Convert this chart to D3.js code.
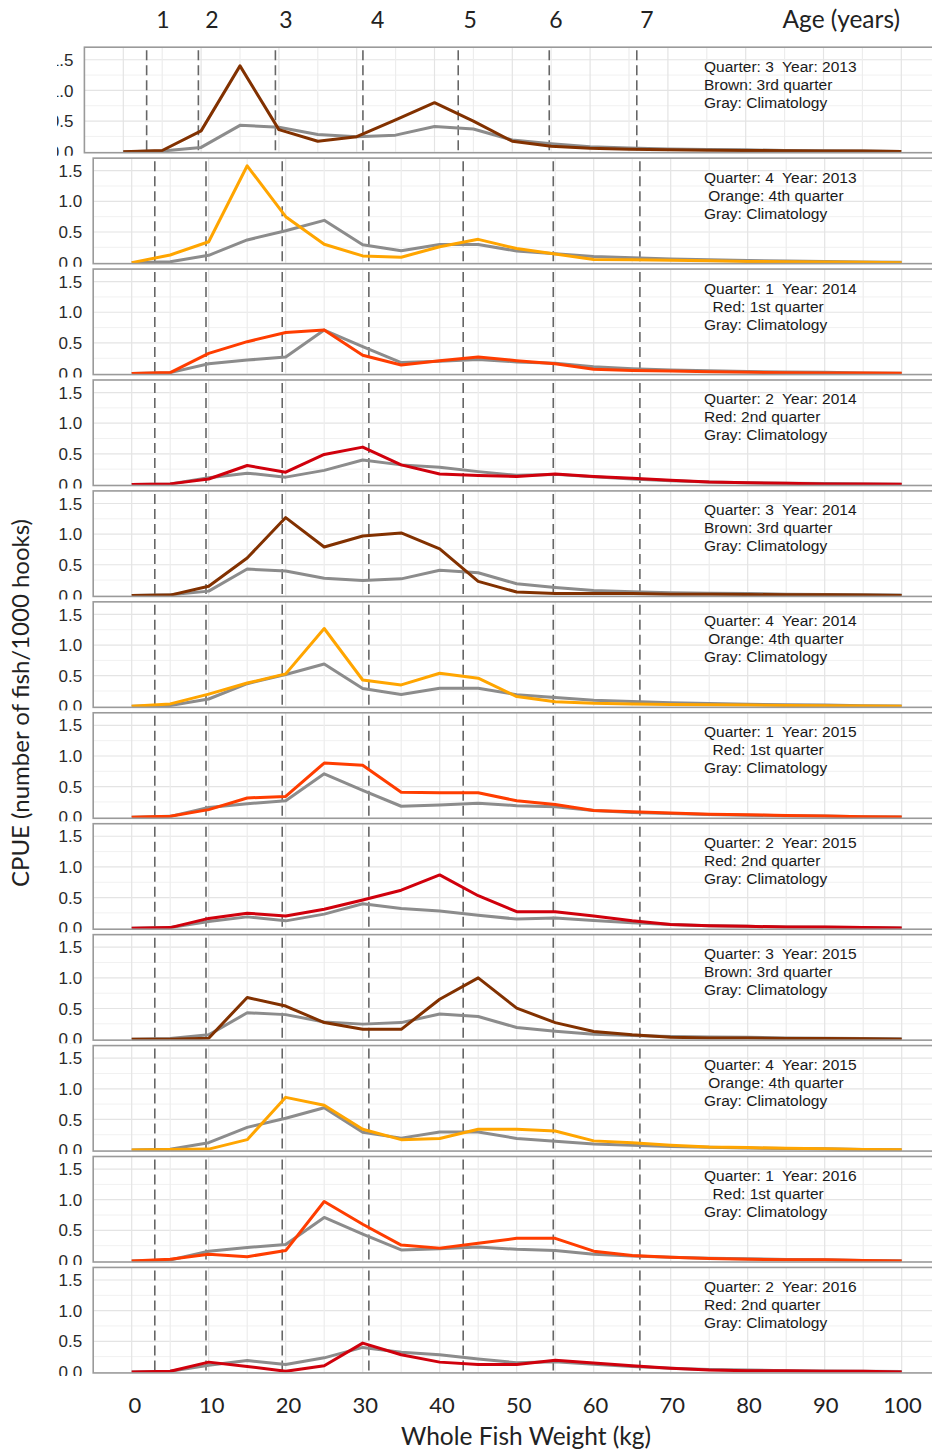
<!DOCTYPE html>
<html><head><meta charset="utf-8">
<script src="https://cdn.jsdelivr.net/npm/d3@7"></script>
<style>
html,body{margin:0;padding:0;background:#fff;}
svg{display:block;}
</style></head>
<body>
<script>
// ---------- DATA ----------
const weights = [0,5,10,15,20,25,30,35,40,45,50,55,60,65,70,75,80,85,90,95,100];
const xTicks = [0,10,20,30,40,50,60,70,80,90,100];
const yTicks = [0.0,0.5,1.0,1.5];
const ageBoundaries = [3.0,9.65,19.55,30.8,43.05,54.75,66.0];
const ageLabels = ["1","2","3","4","5","6","7"];
const ageLabelKg = [5.1,11.4,20.9,32.7,44.6,55.6,67.3];

const climQ1 = [0,0.015,0.16,0.22,0.27,0.71,0.44,0.18,0.20,0.23,0.19,0.17,0.11,0.08,0.06,0.045,0.035,0.025,0.02,0.01,0.005];
const climQ2 = [0,0.01,0.11,0.185,0.12,0.23,0.40,0.32,0.28,0.21,0.15,0.165,0.125,0.09,0.06,0.04,0.03,0.02,0.015,0.01,0.005];
const climQ3 = [0,0.01,0.07,0.43,0.40,0.28,0.245,0.27,0.41,0.37,0.19,0.13,0.08,0.06,0.045,0.035,0.03,0.02,0.015,0.01,0.005];
const climQ4 = [0,0.015,0.12,0.37,0.52,0.69,0.29,0.195,0.295,0.295,0.19,0.145,0.10,0.08,0.06,0.045,0.035,0.025,0.02,0.01,0.005];

const q3_2013 = [0,0.02,0.34,1.40,0.36,0.17,0.245,0.52,0.80,0.50,0.17,0.09,0.055,0.04,0.03,0.025,0.02,0.015,0.01,0.01,0.005];
const q4_2013 = [0,0.125,0.34,1.58,0.75,0.30,0.11,0.087,0.26,0.38,0.23,0.14,0.05,0.045,0.04,0.03,0.02,0.015,0.01,0.005,0];
const q1_2014 = [0,0.016,0.33,0.52,0.67,0.71,0.30,0.14,0.21,0.27,0.21,0.16,0.07,0.05,0.04,0.03,0.02,0.015,0.01,0.01,0.005];
const q2_2014 = [0,0.01,0.09,0.31,0.20,0.49,0.61,0.32,0.17,0.147,0.13,0.17,0.13,0.10,0.07,0.04,0.03,0.02,0.01,0.01,0.005];
const q3_2014 = [0,0.005,0.15,0.61,1.27,0.79,0.97,1.02,0.76,0.23,0.055,0.03,0.03,0.03,0.02,0.02,0.015,0.01,0.01,0.005,0];
const q4_2014 = [0,0.04,0.20,0.38,0.53,1.27,0.43,0.35,0.54,0.46,0.16,0.076,0.05,0.04,0.03,0.025,0.02,0.015,0.01,0.005,0];
const q1_2015 = [0,0.016,0.125,0.315,0.34,0.885,0.85,0.41,0.40,0.40,0.27,0.21,0.11,0.09,0.07,0.05,0.04,0.03,0.02,0.01,0.005];
const q2_2015 = [0,0.01,0.16,0.245,0.20,0.31,0.46,0.62,0.87,0.53,0.27,0.27,0.20,0.12,0.06,0.04,0.03,0.02,0.02,0.01,0.005];
const q3_2015 = [0,0,0.016,0.68,0.54,0.27,0.16,0.16,0.65,1.00,0.505,0.27,0.125,0.07,0.03,0.02,0.02,0.01,0.01,0.005,0];
const q4_2015 = [0,0.01,0.016,0.17,0.86,0.73,0.34,0.17,0.19,0.34,0.34,0.31,0.15,0.12,0.08,0.05,0.04,0.03,0.02,0.01,0.005];
const q1_2016 = [0,0.027,0.11,0.07,0.17,0.97,0.60,0.26,0.21,0.29,0.37,0.37,0.16,0.09,0.06,0.04,0.03,0.02,0.02,0.01,0];
const q2_2016 = [0,0.01,0.16,0.09,0.01,0.10,0.47,0.28,0.16,0.12,0.12,0.19,0.147,0.10,0.06,0.03,0.02,0.02,0.01,0.01,0];

const panelQuarters = [3,4,1,2,3,4,1,2,3,4,1,2];
const panelYears = [2013,2013,2014,2014,2014,2014,2015,2015,2015,2015,2016,2016];
const panelSeries = [q3_2013,q4_2013,q1_2014,q2_2014,q3_2014,q4_2014,q1_2015,q2_2015,q3_2015,q4_2015,q1_2016,q2_2016];
const climByQuarter = {1:climQ1,2:climQ2,3:climQ3,4:climQ4};
const quarterColor = {1:"#ff3d00",2:"#d0000c",3:"#823100",4:"#ffa500"};
const quarterLegend = {1:"  Red: 1st quarter",2:"Red: 2nd quarter",3:"Brown: 3rd quarter",4:" Orange: 4th quarter"};
const climColor = "#8c8c8c";

// ---------- LAYOUT ----------
const W = 932, H = 1452;
const svg = d3.select("body").append("svg").attr("width",W).attr("height",H);
const defs = svg.append("defs");

const xMain = d3.scaleLinear().domain([0,100]).range([131.7,901.7]);
const xTop = d3.scaleLinear().domain([0,100]).range([123.3,901.3]);
const zero0 = 151.7, step = 110.93, panelH = 104.5, yMax = 1.705;

panelSeries.forEach((series,i)=>{
  const x = i===0 ? xTop : xMain;
  const z = zero0 + i*step;
  const y = d3.scaleLinear().domain([0,yMax]).range([z, z-panelH]);
  const q = panelQuarters[i];
  const g = svg.append("g");
  const left = x(-5), right = Math.min(x(105), W+5);

  const cid = "clip"+i;
  defs.append("clipPath").attr("id",cid).append("rect")
    .attr("x",left).attr("y",z-panelH).attr("width",right-left).attr("height",panelH+1);

  g.append("rect").attr("x",left).attr("y",z-panelH).attr("width",right-left).attr("height",panelH+1)
    .attr("fill","#fff");

  const inner = g.append("g").attr("clip-path",`url(#${cid})`);
  const minorY = d3.range(0.25,1.8,0.5);
  inner.selectAll(".gym").data(minorY).join("line")
    .attr("x1",left).attr("x2",right).attr("y1",d=>y(d)).attr("y2",d=>y(d))
    .attr("stroke","#f1f1f1").attr("stroke-width",1);
  inner.selectAll(".gy").data(yTicks.slice(1)).join("line")
    .attr("x1",left).attr("x2",right).attr("y1",d=>y(d)).attr("y2",d=>y(d))
    .attr("stroke","#e4e4e4").attr("stroke-width",1.2);
  inner.selectAll(".gx").data(weights).join("line")
    .attr("x1",d=>x(d)).attr("x2",d=>x(d)).attr("y1",z-panelH).attr("y2",z)
    .attr("stroke",(d)=> d%10===0 ? "#e4e4e4" : "#ededed").attr("stroke-width",1.2);

  inner.selectAll(".age").data(ageBoundaries).join("line")
    .attr("x1",d=>x(d)).attr("x2",d=>x(d)).attr("y1",z-panelH+3).attr("y2",z)
    .attr("stroke","#666").attr("stroke-width",1.6).attr("stroke-dasharray","10,5");

  const line = d3.line().x((d,k)=>x(weights[k])).y(d=>y(d));
  inner.append("path").datum(climByQuarter[q]).attr("d",line)
    .attr("fill","none").attr("stroke",climColor).attr("stroke-width",3).attr("stroke-linejoin","round");
  inner.append("path").datum(series).attr("d",line)
    .attr("fill","none").attr("stroke",quarterColor[q]).attr("stroke-width",3).attr("stroke-linejoin","round");

  g.append("rect").attr("x",left).attr("y",z-panelH).attr("width",right-left).attr("height",panelH+1)
    .attr("fill","none").attr("stroke","#9a9a9a").attr("stroke-width",1.6);

  const lid = "lclip"+i;
  defs.append("clipPath").attr("id",lid).append("rect")
    .attr("x", i===0 ? 57 : 0).attr("y",z-panelH-8).attr("width",200).attr("height",panelH+12);
  const lab = g.append("g").attr("clip-path",`url(#${lid})`);
  lab.selectAll("text").data(yTicks).join("text")
    .attr("x", left-11).attr("y",d=>y(d)).attr("dy","0.36em")
    .attr("text-anchor","end")
    .attr("font-family","'Liberation Sans', Arial, sans-serif").attr("font-size",17)
    .attr("fill","#2a2a2a")
    .text(d=>d3.format(".1f")(d));

  const lines = [`Quarter: ${q}  Year: ${panelYears[i]}`, quarterLegend[q], "Gray: Climatology"];
  g.selectAll(".ann").data(lines).join("text")
    .attr("x",704).attr("y",(d,k)=>z-80+k*18)
    .attr("xml:space","preserve").style("white-space","pre")
    .attr("font-family","'Liberation Sans', Arial, sans-serif").attr("font-size",15.5)
    .attr("fill","#1a1a1a")
    .text(d=>d);
});

const xLab = d3.scaleLinear().domain([0,100]).range([135,902.5]);
svg.append("g").selectAll("text").data(xTicks).join("text")
  .attr("x",d=>xLab(d)).attr("y",1413).attr("text-anchor","middle")
  .attr("font-family","Lato, 'Open Sans', sans-serif").attr("font-size",22).attr("fill","#222")
  .text(d=>d);
svg.append("text").attr("x",526).attr("y",1445).attr("text-anchor","middle")
  .attr("font-family","Lato, 'Open Sans', sans-serif").attr("font-size",24.5).attr("fill","#222")
  .text("Whole Fish Weight (kg)");

svg.append("g").selectAll("text").data(ageLabels).join("text")
  .attr("x",(d,k)=>xTop(ageLabelKg[k])).attr("y",28).attr("text-anchor","middle")
  .attr("font-family","Lato, 'Open Sans', sans-serif").attr("font-size",23).attr("fill","#222")
  .text(d=>d);
svg.append("text").attr("x",900).attr("y",28).attr("text-anchor","end")
  .attr("font-family","Lato, 'Open Sans', sans-serif").attr("font-size",24.5).attr("fill","#222")
  .text("Age (years)");

svg.append("text").attr("transform","translate(29,703) rotate(-90)").attr("text-anchor","middle")
  .attr("font-family","Lato, 'Open Sans', sans-serif").attr("font-size",24).attr("fill","#222")
  .text("CPUE (number of fish/1000 hooks)");
</script>
</body></html>
